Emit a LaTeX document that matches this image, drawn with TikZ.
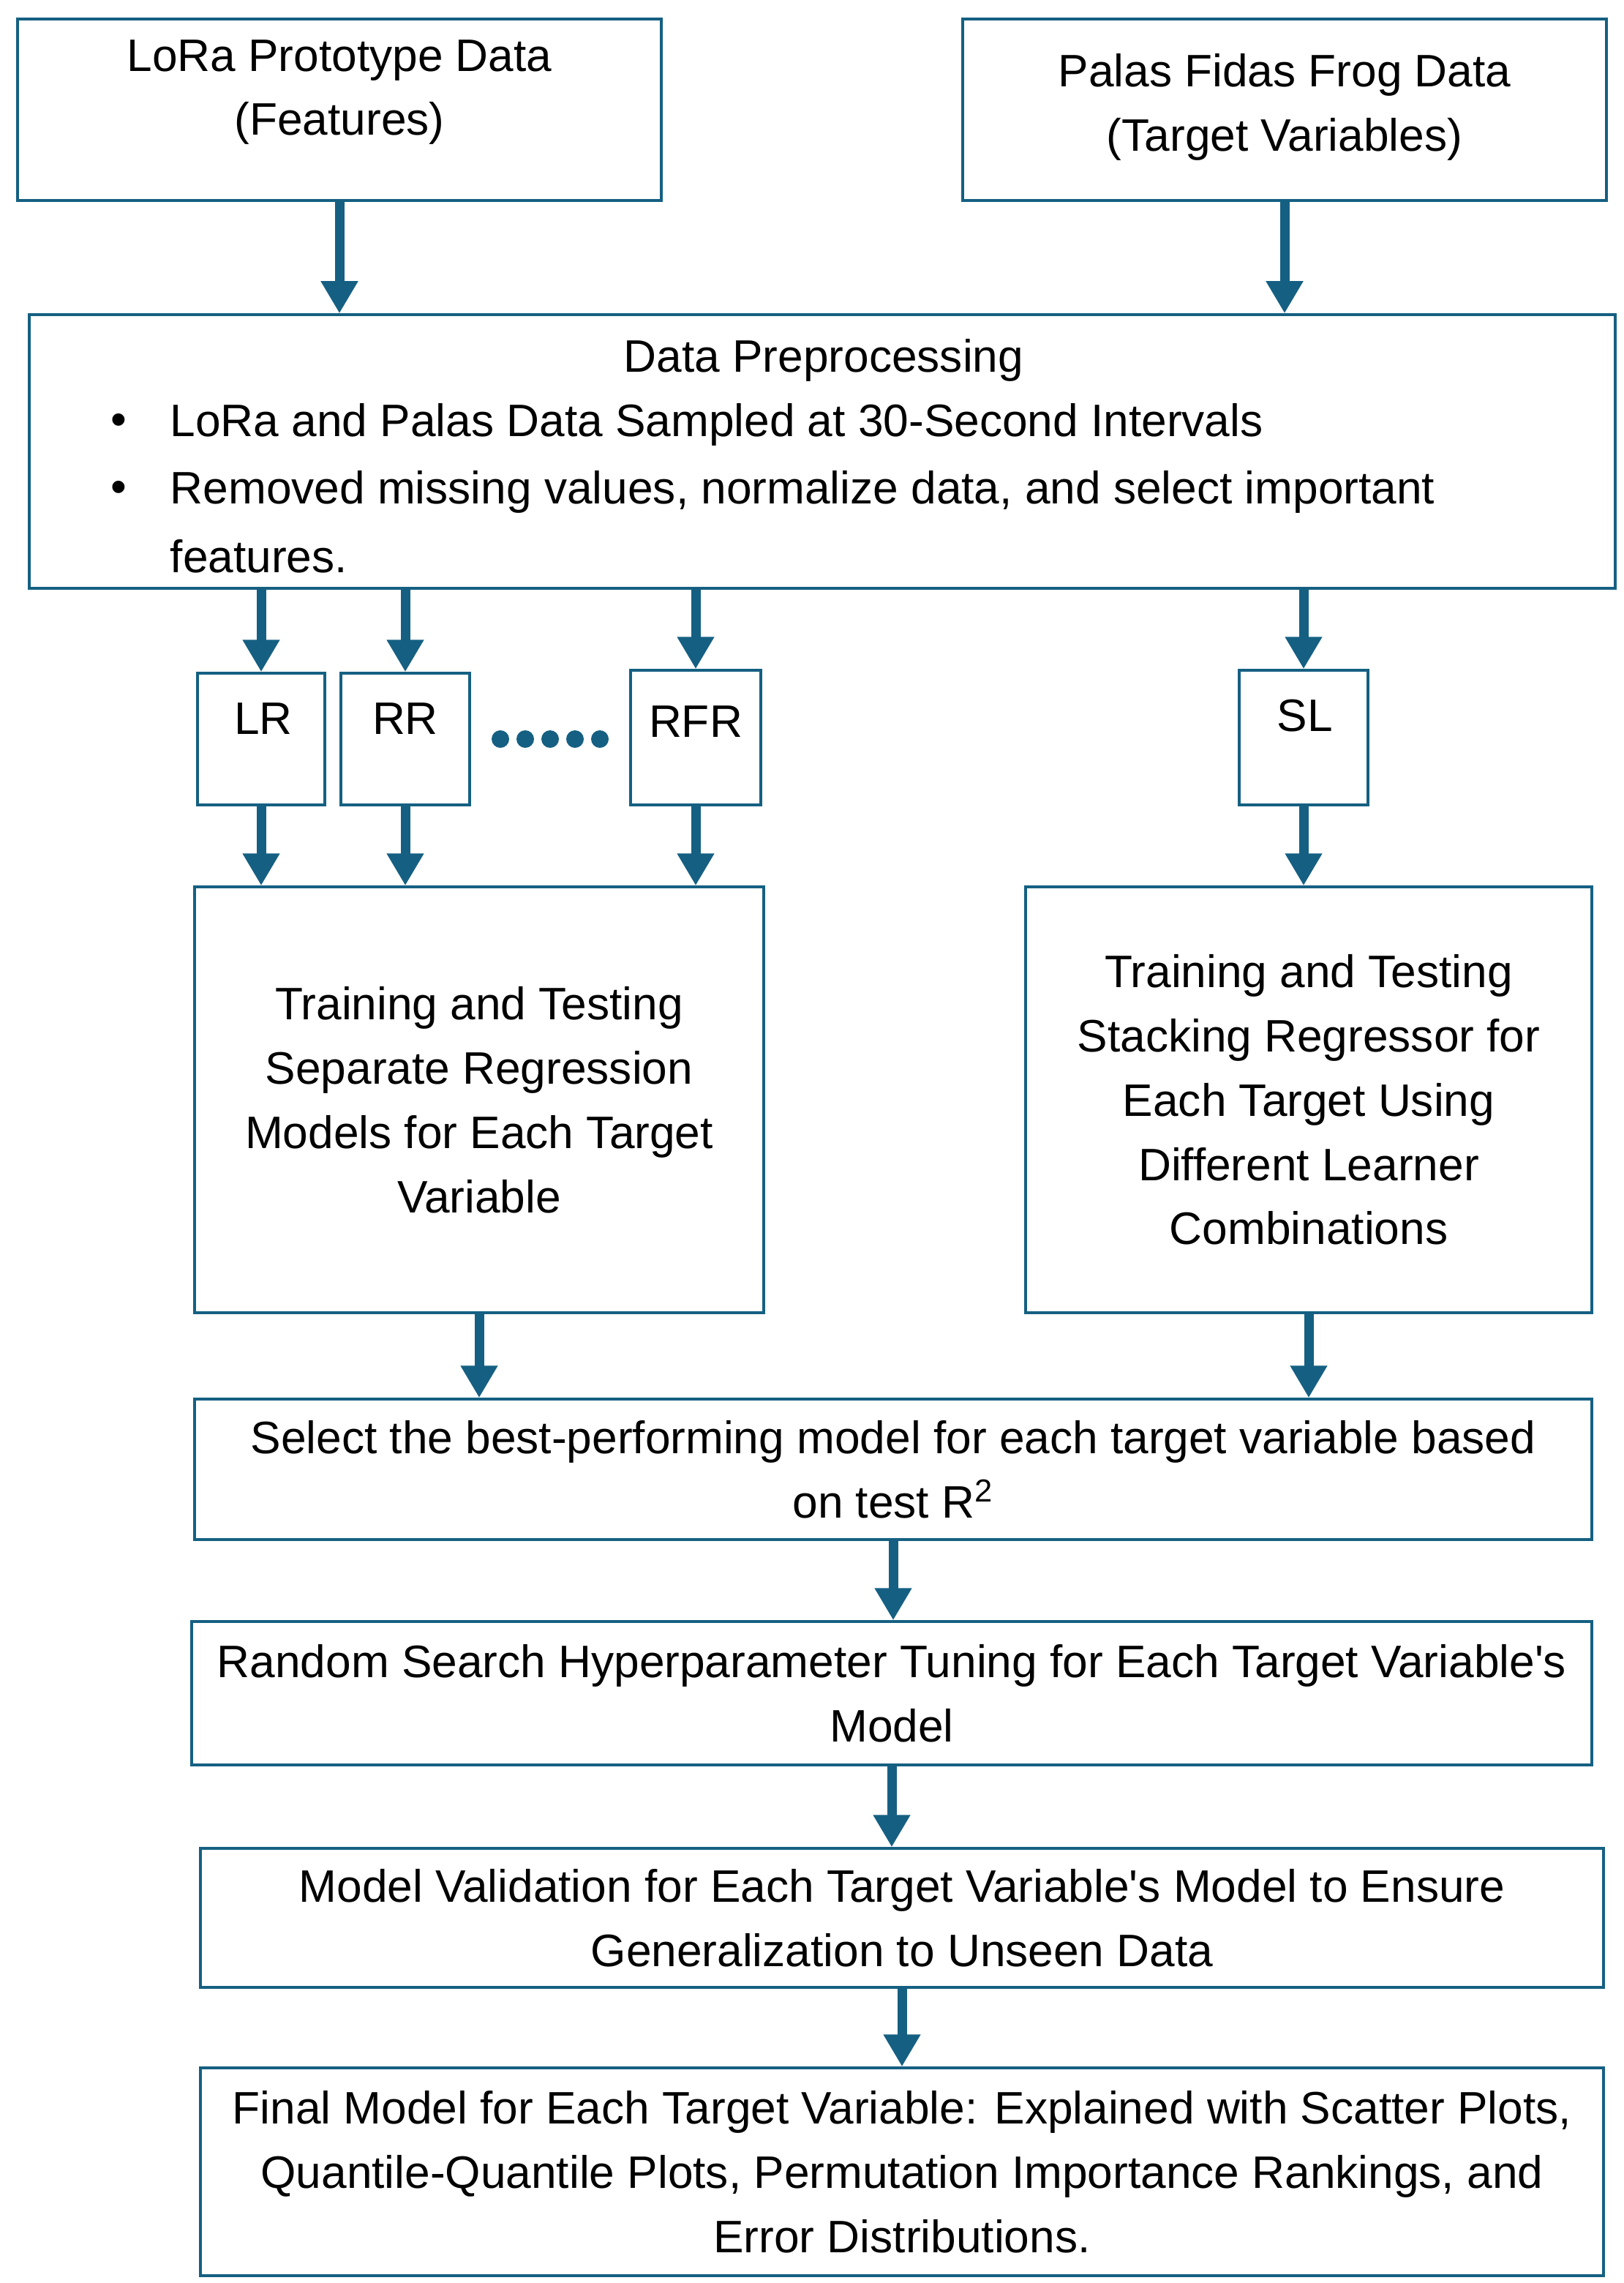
\documentclass[tikz,border=0pt]{standalone}
\usepackage{fontspec}
\setmainfont{Liberation Sans}
\usetikzlibrary{arrows.meta}
\definecolor{flowblue}{HTML}{156082}

\begin{document}
\begin{tikzpicture}[
	box/.style={draw=flowblue, line width=1pt, inner sep=0pt, font=\fontsize{17.7}{25}\selectfont, align=center},
	txt/.style={inner sep=0pt, font=\fontsize{17.7}{25}\selectfont, align=center},
	flow/.style={draw=flowblue, line width=0.13cm, -{Triangle[width=0.48cm,length=0.44cm]}}]
\useasboundingbox (0,0) rectangle (22.2,-31.2);
\node[box, minimum width=8.80cm, minimum height=2.48cm] (lora) at (4.64,-1.50) {};
\node[txt] (lora-txt) at (4.64,-1.26) {LoRa Prototype Data\\(Features)};
\node[box, minimum width=8.80cm, minimum height=2.48cm] (palas) at (17.56,-1.50) {};
\node[txt] (palas-txt) at (17.56,-1.46) {Palas Fidas Frog Data\\(Target Variables)};
\node[box, minimum width=21.68cm, minimum height=3.74cm] (prep) at (11.24,-6.17) {};
\node[txt] (prep-txt) at (11.26,-4.92) {Data Preprocessing};
\node[txt] (prep-b1) at (1.62,-5.80) {\textbullet};
\node[txt] (prep-b2) at (1.62,-6.72) {\textbullet};
\node[txt, anchor=west] (prep-l1) at (2.32,-5.80) {LoRa and Palas Data Sampled at 30-Second Intervals};
\node[txt, anchor=west] (prep-l2) at (2.32,-6.72) {Removed missing values, normalize data, and select important};
\node[txt, anchor=west] (prep-l3) at (2.32,-7.60) {features.};
\node[box, minimum width=1.74cm, minimum height=1.80cm] (lr) at (3.57,-10.10) {};
\node[txt] (lr-txt) at (3.60,-9.82) {LR};
\node[box, minimum width=1.76cm, minimum height=1.80cm] (rr) at (5.54,-10.10) {};
\node[txt] (rr-txt) at (5.54,-9.82) {RR};
\node[box, minimum width=1.78cm, minimum height=1.84cm] (rfr) at (9.51,-10.08) {};
\node[txt] (rfr-txt) at (9.51,-9.86) {RFR};
\node[box, minimum width=1.76cm, minimum height=1.84cm] (sl) at (17.82,-10.08) {};
\node[txt] (sl-txt) at (17.84,-9.78) {SL};
\foreach \x in {6.84,7.18,7.52,7.86,8.20}
	\fill[flowblue] (\x,-10.10) circle (0.12);
\node[box, minimum width=7.78cm, minimum height=5.82cm] (sep) at (6.55,-15.03) {Training and Testing\\Separate Regression\\Models for Each Target\\Variable};
\node[box, minimum width=7.74cm, minimum height=5.82cm] (stack) at (17.89,-15.03) {Training and Testing\\Stacking Regressor for\\Each Target Using\\Different Learner\\Combinations};
\node[box, minimum width=19.10cm, minimum height=1.92cm] (select) at (12.21,-20.08) {Select the best-performing model for each target variable based\\on test R\textsuperscript{2}};
\node[box, minimum width=19.14cm, minimum height=1.96cm] (tune) at (12.19,-23.14) {Random Search Hyperparameter Tuning for Each Target Variable\textquotesingle s\\Model};
\node[box, minimum width=19.18cm, minimum height=1.90cm] (valid) at (12.33,-26.21) {Model Validation for Each Target Variable\textquotesingle s Model to Ensure\\Generalization to Unseen Data};
\node[box, minimum width=19.18cm, minimum height=2.84cm] (final) at (12.33,-29.68) {Final Model for Each Target Variable: Explained with Scatter Plots,\\Quantile-Quantile Plots, Permutation Importance Rankings, and\\Error Distributions.};
\draw[flow] (lora.south) -- (lora.south |- prep.north);
\draw[flow] (palas.south) -- (palas.south |- prep.north);
\draw[flow] (lr.north |- prep.south) -- (lr.north);
\draw[flow] (rr.north |- prep.south) -- (rr.north);
\draw[flow] (rfr.north |- prep.south) -- (rfr.north);
\draw[flow] (sl.north |- prep.south) -- (sl.north);
\draw[flow] (lr.south) -- (lr.south |- sep.north);
\draw[flow] (rr.south) -- (rr.south |- sep.north);
\draw[flow] (rfr.south) -- (rfr.south |- sep.north);
\draw[flow] (sl.south) -- (sl.south |- stack.north);
\draw[flow] (sep.south) -- (sep.south |- select.north);
\draw[flow] (stack.south) -- (stack.south |- select.north);
\draw[flow] (select.south) -- (select.south |- tune.north);
\draw[flow] (tune.south) -- (tune.south |- valid.north);
\draw[flow] (valid.south) -- (valid.south |- final.north);
\end{tikzpicture}
\end{document}
